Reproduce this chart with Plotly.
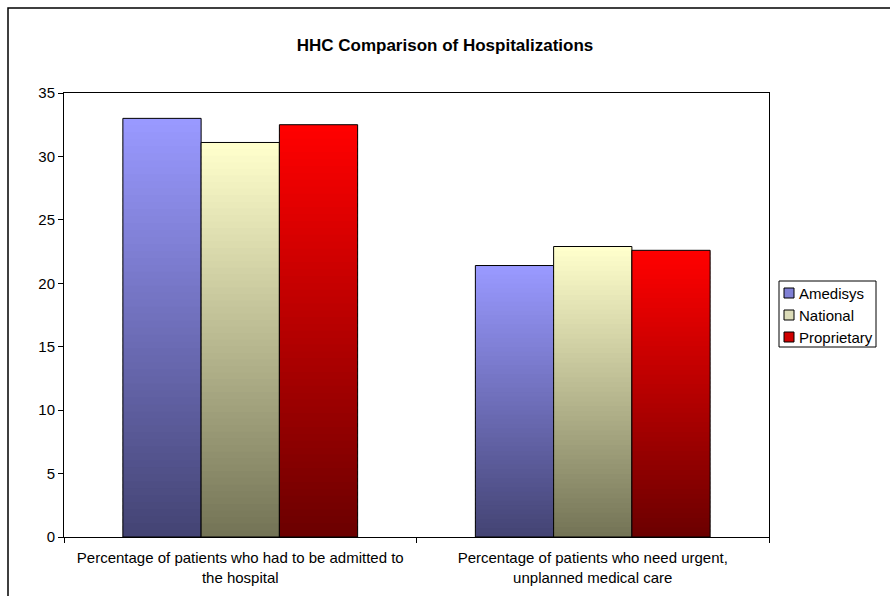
import plotly.graph_objects as go

categories = ["Percentage of patients who had to be admitted to<br>the hospital",
              "Percentage of patients who need urgent,<br>unplanned medical care"]
series = ["Amedisys", "National", "Proprietary"]
amedisys = [33.0, 21.4]
national = [31.1, 22.9]
proprietary = [32.5, 22.6]
values = [amedisys, national, proprietary]

# top / bottom colours of the vertical gradient for each series
top_colors = [(153, 153, 255), (255, 255, 204), (255, 0, 0)]
bottom_colors = [(68, 68, 116), (116, 116, 86), (108, 0, 0)]
legend_colors = ["#8080d4", "#dcdcb8", "#d00000"]

bar_w = 0.222
offsets = [-0.333, -0.111, 0.111]
N = 60
FONT = "Arial, Liberation Sans, sans-serif"

# plot area in pixels (for placing the frame and the legend box)
L, R, T, B = 64, 769, 93, 537


def px_x(p):
    return (p - L) / (R - L)


def px_y(p):
    return (B - p) / (B - T)


def mix(c0, c1, t):
    return "rgb({},{},{})".format(*[round(a + (b - a) * t) for a, b in zip(c0, c1)])


fig = go.Figure()
for s, name in enumerate(series):
    vals = values[s]
    # gradient: stack N thin slices per bar, each slice a share of the bar's own value
    for i in range(N):
        base = [v * i / N for v in vals]
        h = [min(v / N * 1.6, v - b) for v, b in zip(vals, base)]
        fig.add_trace(go.Bar(
            x=categories, y=h, base=base, width=bar_w, offset=offsets[s],
            marker=dict(color=mix(bottom_colors[s], top_colors[s], i / (N - 1)),
                        line=dict(width=0)),
            showlegend=False, hoverinfo="skip"))
    # outline
    fig.add_trace(go.Bar(
        x=categories, y=vals, width=bar_w, offset=offsets[s], name=name,
        marker=dict(color="rgba(0,0,0,0)", line=dict(color="black", width=1)),
        showlegend=False))

shapes = [
    # outer chart frame
    dict(type="rect", xref="paper", yref="paper",
         x0=px_x(8), x1=px_x(893), y0=px_y(600), y1=px_y(8),
         line=dict(color="black", width=1.5), fillcolor="rgba(0,0,0,0)", layer="below"),
    # legend box
    dict(type="rect", xref="paper", yref="paper",
         x0=px_x(779), x1=px_x(876), y0=px_y(347), y1=px_y(281),
         line=dict(color="black", width=1), fillcolor="white"),
]
annotations = []
legend_rows = [293, 315, 337]
for name, col, yc in zip(series, legend_colors, legend_rows):
    shapes.append(dict(type="rect", xref="paper", yref="paper",
                       x0=px_x(784), x1=px_x(794), y0=px_y(yc + 5), y1=px_y(yc - 5),
                       line=dict(color="black", width=1), fillcolor=col))
    annotations.append(dict(text=name, xref="paper", yref="paper",
                            x=px_x(797), y=px_y(yc), xanchor="left", yanchor="middle",
                            showarrow=False, font=dict(family=FONT, size=15, color="black")))

fig.update_layout(
    width=890, height=596,
    barmode="overlay",
    showlegend=False,
    paper_bgcolor="white", plot_bgcolor="white",
    margin=dict(l=L, r=890 - R, t=T, b=596 - B),
    font=dict(family=FONT, size=15, color="black"),
    title=dict(text="<b>HHC Comparison of Hospitalizations</b>",
               x=0.5, xref="container", xanchor="center",
               y=1 - 45 / 596, yref="container", yanchor="middle",
               font=dict(family=FONT, size=17, color="black")),
    shapes=shapes,
    annotations=annotations,
)
fig.update_xaxes(showline=True, linecolor="black", linewidth=1, mirror=True,
                 ticks="outside", tickson="boundaries", ticklen=5, tickcolor="black",
                 showgrid=False, tickangle=0, tickfont=dict(size=15),
                 ticklabelstandoff=7, automargin=False)
fig.update_yaxes(range=[0, 35], dtick=5, showline=True, linecolor="black", linewidth=1,
                 mirror=True, ticks="outside", ticklen=5, tickcolor="black",
                 showgrid=False, zeroline=False, tickfont=dict(size=15),
                 automargin=False)

fig.write_html("out.html", config={"displayModeBar": False},
               post_script="document.body.style.margin='0';")
